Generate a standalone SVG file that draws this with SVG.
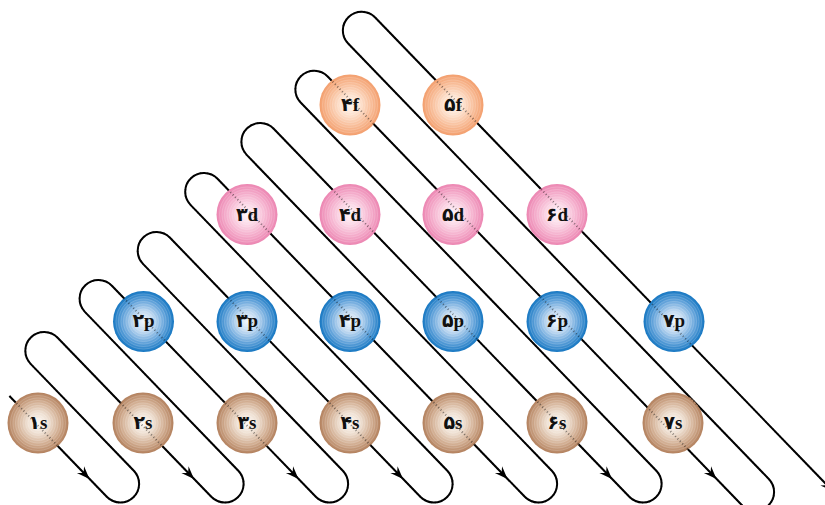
<svg xmlns="http://www.w3.org/2000/svg" xmlns:xlink="http://www.w3.org/1999/xlink" width="825" height="505" viewBox="0 0 825 505">
<style>
.snake{fill:none;stroke:#000;stroke-width:2;stroke-linejoin:round}
.dots{fill:none;stroke:#444;stroke-width:0.8;stroke-dasharray:1 2.4;opacity:0.45}
.ring{fill:none;stroke:#fff;stroke-width:0.8;opacity:0.22}
.lbl{font-family:"Liberation Serif","DejaVu Sans","DejaVu Serif",serif;font-weight:bold;font-size:19px;fill:#111;text-anchor:middle}
.s{fill:url(#gs)}.p{fill:url(#gp)}.d{fill:url(#gd)}.f{fill:url(#gf)}
</style>
<defs>
<radialGradient id="gs" cx="0.5" cy="0.5" r="0.5">
<stop offset="0" stop-color="#fdf9f4"/><stop offset="0.35" stop-color="#eedfd1"/><stop offset="0.7" stop-color="#d2ae92"/><stop offset="1" stop-color="#b3815e"/>
</radialGradient>
<radialGradient id="gp" cx="0.5" cy="0.5" r="0.5">
<stop offset="0" stop-color="#f2f7fc"/><stop offset="0.35" stop-color="#bdd7f0"/><stop offset="0.7" stop-color="#61a2da"/><stop offset="1" stop-color="#1677c2"/>
</radialGradient>
<radialGradient id="gd" cx="0.5" cy="0.5" r="0.5">
<stop offset="0" stop-color="#fff6f9"/><stop offset="0.35" stop-color="#fbd7e6"/><stop offset="0.7" stop-color="#f4abca"/><stop offset="1" stop-color="#ec86b2"/>
</radialGradient>
<radialGradient id="gf" cx="0.5" cy="0.5" r="0.5">
<stop offset="0" stop-color="#fff8f2"/><stop offset="0.35" stop-color="#fde0cc"/><stop offset="0.7" stop-color="#f8bc97"/><stop offset="1" stop-color="#f39f6e"/>
</radialGradient>
<g id="rings">
<circle class="ring" r="27.5"/><circle class="ring" r="25"/><circle class="ring" r="22.5"/><circle class="ring" r="20"/><circle class="ring" r="17.5"/><circle class="ring" r="15"/><circle class="ring" r="12.5"/><circle class="ring" r="10"/><circle class="ring" r="7.5"/><circle class="ring" r="5"/>
</g>
<path id="ah" d="M0,0 L-13,-5 L-8.5,0 L-13,5 Z" fill="#000"/>
</defs>

<g id="connectors">
<path id="snake" class="snake" d="M9.4,396 L107.05,497.06 A18.79,18.79 0 0 0 134.07,470.95 L30.6,363.86 A18.79,18.79 0 0 1 57.63,337.75 L211.55,497.06 A18.79,18.79 0 0 0 238.57,470.95 L84.86,311.86 A18.79,18.79 0 0 1 111.89,285.75 L316.05,497.06 A18.79,18.79 0 0 0 343.07,470.95 L142.98,263.86 A18.79,18.79 0 0 1 170.01,237.75 L420.55,497.06 A18.79,18.79 0 0 0 447.57,470.95 L190.48,204.86 A18.79,18.79 0 0 1 217.51,178.75 L525.05,497.06 A18.79,18.79 0 0 0 552.07,470.95 L246.67,154.86 A18.79,18.79 0 0 1 273.7,128.75 L629.55,497.06 A18.79,18.79 0 0 0 656.57,470.95 L300.64,102.56 A18.79,18.79 0 0 1 327.67,76.45 L741.78,505.06 A18.79,18.79 0 0 0 768.81,478.95 L348.13,43.56 A18.79,18.79 0 0 1 375.16,17.45 L860.7,520"/>
<use xlink:href="#ah" href="#ah" transform="translate(89.5,479) rotate(46)"/>
<use xlink:href="#ah" href="#ah" transform="translate(194,479) rotate(46)"/>
<use xlink:href="#ah" href="#ah" transform="translate(298.5,479) rotate(46)"/>
<use xlink:href="#ah" href="#ah" transform="translate(403,479) rotate(46)"/>
<use xlink:href="#ah" href="#ah" transform="translate(507.5,479) rotate(46)"/>
<use xlink:href="#ah" href="#ah" transform="translate(612,479) rotate(46)"/>
<use xlink:href="#ah" href="#ah" transform="translate(716.5,479) rotate(46)"/>
<use xlink:href="#ah" href="#ah" transform="translate(833,491.3) rotate(46)"/>
</g>

<g id="n1s"><circle class="s" cx="38" cy="423" r="30.5"/><use href="#rings" xlink:href="#rings" x="38" y="423"/><text class="lbl" x="38" y="429">۱s</text></g>
<g id="n2s"><circle class="s" cx="143" cy="423" r="30.5"/><use href="#rings" xlink:href="#rings" x="143" y="423"/><text class="lbl" x="143" y="429">۲s</text></g>
<g id="n3s"><circle class="s" cx="247" cy="423" r="30.5"/><use href="#rings" xlink:href="#rings" x="247" y="423"/><text class="lbl" x="247" y="429">۳s</text></g>
<g id="n4s"><circle class="s" cx="350" cy="423" r="30.5"/><use href="#rings" xlink:href="#rings" x="350" y="423"/><text class="lbl" x="350" y="429">۴s</text></g>
<g id="n5s"><circle class="s" cx="453" cy="423" r="30.5"/><use href="#rings" xlink:href="#rings" x="453" y="423"/><text class="lbl" x="453" y="429">۵s</text></g>
<g id="n6s"><circle class="s" cx="557" cy="423" r="30.5"/><use href="#rings" xlink:href="#rings" x="557" y="423"/><text class="lbl" x="557" y="429">۶s</text></g>
<g id="n7s"><circle class="s" cx="673" cy="423" r="30.5"/><use href="#rings" xlink:href="#rings" x="673" y="423"/><text class="lbl" x="673" y="429">۷s</text></g>

<g id="n2p"><circle class="p" cx="143.5" cy="321.5" r="30.5"/><use href="#rings" xlink:href="#rings" x="143.5" y="321.5"/><text class="lbl" x="143.5" y="327">۲p</text></g>
<g id="n3p"><circle class="p" cx="247" cy="321.5" r="30.5"/><use href="#rings" xlink:href="#rings" x="247" y="321.5"/><text class="lbl" x="247" y="327">۳p</text></g>
<g id="n4p"><circle class="p" cx="350" cy="321.5" r="30.5"/><use href="#rings" xlink:href="#rings" x="350" y="321.5"/><text class="lbl" x="350" y="327">۴p</text></g>
<g id="n5p"><circle class="p" cx="453" cy="321.5" r="30.5"/><use href="#rings" xlink:href="#rings" x="453" y="321.5"/><text class="lbl" x="453" y="327">۵p</text></g>
<g id="n6p"><circle class="p" cx="557" cy="321.5" r="30.5"/><use href="#rings" xlink:href="#rings" x="557" y="321.5"/><text class="lbl" x="557" y="327">۶p</text></g>
<g id="n7p"><circle class="p" cx="674" cy="321.5" r="30.5"/><use href="#rings" xlink:href="#rings" x="674" y="321.5"/><text class="lbl" x="674" y="327">۷p</text></g>

<g id="n3d"><circle class="d" cx="247" cy="214.5" r="30.5"/><use href="#rings" xlink:href="#rings" x="247" y="214.5"/><text class="lbl" x="247" y="220.5">۳d</text></g>
<g id="n4d"><circle class="d" cx="350" cy="214.5" r="30.5"/><use href="#rings" xlink:href="#rings" x="350" y="214.5"/><text class="lbl" x="350" y="220.5">۴d</text></g>
<g id="n5d"><circle class="d" cx="453" cy="214.5" r="30.5"/><use href="#rings" xlink:href="#rings" x="453" y="214.5"/><text class="lbl" x="453" y="220.5">۵d</text></g>
<g id="n6d"><circle class="d" cx="557" cy="214.5" r="30.5"/><use href="#rings" xlink:href="#rings" x="557" y="214.5"/><text class="lbl" x="557" y="220.5">۶d</text></g>

<g id="n4f"><circle class="f" cx="350" cy="105" r="30.5"/><use href="#rings" xlink:href="#rings" x="350" y="105"/><text class="lbl" x="350" y="111">۴f</text></g>
<g id="n5f"><circle class="f" cx="453" cy="105" r="30.5"/><use href="#rings" xlink:href="#rings" x="453" y="105"/><text class="lbl" x="453" y="111">۵f</text></g>

<g id="overlay"><use href="#snake" xlink:href="#snake" class="dots" style="stroke:#444;stroke-width:0.8;stroke-dasharray:1 2.4"/></g>
</svg>
